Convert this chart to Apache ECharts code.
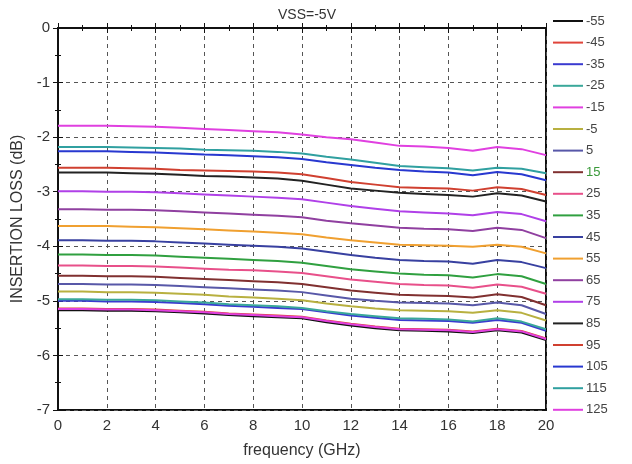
<!DOCTYPE html>
<html>
<head>
<meta charset="utf-8">
<script src="https://cdn.jsdelivr.net/npm/echarts@6/dist/echarts.min.js"></script>
<style>
  html, body { margin: 0; padding: 0; background: #fff; }
  #chart { width: 632px; height: 464px; }
</style>
</head>
<body>
<div id="chart"></div>
<script>
// frequency points (GHz)
const freq = [0, 1, 2, 3, 4, 5, 6, 7, 8, 9, 10, 11, 12, 13, 14, 15, 16, 17, 18, 19, 20]

// temperature labels, legend order
const temps = ['-55', '-45', '-35', '-25', '-15', '-5', '5', '15', '25', '35', '45', '55', '65', '75', '85', '95', '105', '115', '125']
const colors = ['#111111', '#e0443a', '#3a3ad0', '#3aa89a', '#e040e0', '#b8b040', '#5858a8', '#803030', '#e8508a', '#30a040', '#3840a0', '#f0a030', '#9040a0', '#b040e8', '#222222', '#d04030', '#2838d0', '#30a0a0', '#e040e0']

// insertion loss (dB) per temperature
const loss_m55 = [-5.17, -5.17, -5.18, -5.18, -5.19, -5.21, -5.23, -5.26, -5.28, -5.30, -5.32, -5.39, -5.45, -5.50, -5.54, -5.55, -5.56, -5.59, -5.54, -5.58, -5.72]
const loss_m45 = [-5.14, -5.14, -5.15, -5.15, -5.16, -5.18, -5.20, -5.23, -5.25, -5.27, -5.29, -5.36, -5.42, -5.47, -5.51, -5.52, -5.53, -5.56, -5.51, -5.55, -5.69]
const loss_m35 = [-5.00, -5.00, -5.01, -5.01, -5.02, -5.04, -5.06, -5.09, -5.11, -5.13, -5.15, -5.21, -5.27, -5.31, -5.35, -5.36, -5.37, -5.40, -5.35, -5.40, -5.55]
const loss_m25 = [-4.97, -4.97, -4.98, -4.98, -4.99, -5.01, -5.03, -5.06, -5.08, -5.10, -5.13, -5.19, -5.24, -5.28, -5.32, -5.33, -5.34, -5.38, -5.32, -5.38, -5.52]
const loss_m15 = [-5.15, -5.15, -5.16, -5.16, -5.17, -5.19, -5.21, -5.24, -5.26, -5.28, -5.30, -5.37, -5.43, -5.48, -5.52, -5.53, -5.54, -5.57, -5.52, -5.56, -5.70]
const loss_m5 = [-4.83, -4.83, -4.84, -4.84, -4.85, -4.87, -4.89, -4.92, -4.94, -4.96, -4.99, -5.05, -5.10, -5.14, -5.17, -5.18, -5.19, -5.22, -5.17, -5.22, -5.36]
const loss_5 = [-4.69, -4.69, -4.70, -4.70, -4.71, -4.73, -4.75, -4.77, -4.79, -4.81, -4.84, -4.90, -4.96, -5.00, -5.03, -5.04, -5.05, -5.08, -5.03, -5.08, -5.24]
const loss_15 = [-4.54, -4.54, -4.55, -4.55, -4.56, -4.58, -4.60, -4.62, -4.64, -4.66, -4.69, -4.75, -4.81, -4.85, -4.89, -4.90, -4.91, -4.94, -4.88, -4.93, -5.08]
const loss_25 = [-4.35, -4.35, -4.36, -4.36, -4.37, -4.39, -4.41, -4.43, -4.44, -4.46, -4.49, -4.55, -4.61, -4.65, -4.69, -4.71, -4.72, -4.76, -4.70, -4.74, -4.87]
const loss_35 = [-4.15, -4.15, -4.16, -4.16, -4.17, -4.19, -4.21, -4.23, -4.25, -4.27, -4.30, -4.36, -4.42, -4.46, -4.50, -4.52, -4.53, -4.57, -4.51, -4.55, -4.69]
const loss_45 = [-3.89, -3.89, -3.90, -3.90, -3.91, -3.93, -3.95, -3.97, -3.99, -4.01, -4.04, -4.10, -4.16, -4.21, -4.25, -4.27, -4.28, -4.32, -4.25, -4.29, -4.40]
const loss_55 = [-3.63, -3.63, -3.63, -3.64, -3.65, -3.67, -3.69, -3.71, -3.73, -3.75, -3.78, -3.84, -3.89, -3.93, -3.97, -3.98, -3.99, -4.01, -3.97, -4.01, -4.13]
const loss_65 = [-3.32, -3.32, -3.33, -3.33, -3.34, -3.36, -3.38, -3.40, -3.42, -3.44, -3.47, -3.53, -3.58, -3.62, -3.66, -3.68, -3.69, -3.72, -3.66, -3.70, -3.85]
const loss_75 = [-2.99, -2.99, -3.00, -3.00, -3.01, -3.03, -3.05, -3.07, -3.09, -3.11, -3.14, -3.20, -3.26, -3.31, -3.36, -3.38, -3.40, -3.43, -3.37, -3.41, -3.54]
const loss_85 = [-2.65, -2.65, -2.65, -2.66, -2.67, -2.69, -2.71, -2.72, -2.74, -2.76, -2.80, -2.87, -2.94, -2.98, -3.02, -3.04, -3.06, -3.09, -3.03, -3.07, -3.18]
const loss_95 = [-2.56, -2.56, -2.56, -2.57, -2.58, -2.60, -2.61, -2.62, -2.63, -2.65, -2.68, -2.75, -2.82, -2.87, -2.92, -2.93, -2.94, -2.98, -2.92, -2.95, -3.06]
const loss_105 = [-2.26, -2.26, -2.26, -2.27, -2.28, -2.30, -2.32, -2.33, -2.35, -2.37, -2.40, -2.46, -2.51, -2.56, -2.60, -2.63, -2.65, -2.70, -2.64, -2.68, -2.79]
const loss_115 = [-2.18, -2.18, -2.18, -2.19, -2.20, -2.21, -2.23, -2.24, -2.25, -2.27, -2.30, -2.36, -2.41, -2.47, -2.53, -2.55, -2.57, -2.61, -2.56, -2.58, -2.66]
const loss_125 = [-1.79, -1.79, -1.79, -1.80, -1.81, -1.83, -1.85, -1.87, -1.89, -1.91, -1.95, -2.00, -2.04, -2.10, -2.16, -2.17, -2.20, -2.25, -2.18, -2.22, -2.33]

const allLoss = [loss_m55, loss_m45, loss_m35, loss_m25, loss_m15, loss_m5, loss_5, loss_15, loss_25, loss_35, loss_45, loss_55, loss_65, loss_75, loss_85, loss_95, loss_105, loss_115, loss_125]

const chart = echarts.init(document.getElementById('chart'))
const font = 'Liberation Sans, Arial, sans-serif'

const series = temps.map((t, i) => ({
  name: t,
  type: 'line',
  symbol: 'none',
  smooth: false,
  color: colors[i],
  lineStyle: { width: 2, color: colors[i] },
  data: freq.map((f, j) => [f, allLoss[i][j]])
}))

// the "15" label is green in the original
const legendData = temps.map(t => {
  if (t === '15') return { name: t, textStyle: { color: '#3a9a3a' } }
  return { name: t }
})

const option = {
  animation: false,
  title: {
    text: 'VSS=-5V',
    left: 302,
    textAlign: 'center',
    top: 3,
    textStyle: { fontSize: 14, fontWeight: 'normal', color: '#333', fontFamily: font }
  },
  legend: {
    orient: 'vertical',
    left: 548,
    top: 9,
    icon: 'rect',
    itemWidth: 30,
    itemHeight: 2,
    itemGap: 7.6,
    data: legendData,
    textStyle: { fontSize: 13, lineHeight: 14, color: '#444', fontFamily: font, padding: [0, 0, 0, -2] }
  },
  grid: {
    left: 58,
    right: 86,
    top: 28,
    bottom: 54,
    show: true,
    borderColor: '#111',
    borderWidth: 2
  },
  xAxis: [
    {
      type: 'value',
      min: 0,
      max: 20,
      interval: 2,
      name: 'frequency (GHz)',
      nameLocation: 'middle',
      nameGap: 33,
      nameTextStyle: { fontSize: 16, color: '#333', fontFamily: font },
      axisLine: { show: true, lineStyle: { color: '#111', width: 2 } },
      axisTick: { inside: true, length: 5, lineStyle: { color: '#111' } },
      minorTick: { show: true, splitNumber: 2, length: 3, lineStyle: { color: '#111' } },
      axisLabel: { fontSize: 15, color: '#333', margin: 8, fontFamily: font },
      splitLine: { show: true, lineStyle: { color: '#555', type: [4, 4], width: 1 } }
    },
    {
      type: 'value',
      position: 'top',
      min: 0,
      max: 20,
      interval: 2,
      axisLine: { show: true, lineStyle: { color: '#111', width: 2 } },
      axisTick: { inside: true, length: 5, lineStyle: { color: '#111' } },
      minorTick: { show: true, splitNumber: 2, length: 3, lineStyle: { color: '#111' } },
      axisLabel: { show: false },
      splitLine: { show: false }
    }
  ],
  yAxis: [
    {
      type: 'value',
      min: -7,
      max: 0,
      interval: 1,
      name: 'INSERTION LOSS (dB)',
      nameLocation: 'middle',
      nameGap: 31,
      nameTextStyle: { fontSize: 16, color: '#333', fontFamily: font },
      axisLine: { show: true, lineStyle: { color: '#111', width: 2 } },
      axisTick: { inside: true, length: 5, lineStyle: { color: '#111' } },
      minorTick: { show: true, splitNumber: 2, length: 3, lineStyle: { color: '#111' } },
      axisLabel: { fontSize: 15, color: '#333', margin: 8, fontFamily: font },
      splitLine: { show: true, lineStyle: { color: '#555', type: [4, 4], width: 1 } }
    },
    {
      type: 'value',
      position: 'right',
      min: -7,
      max: 0,
      interval: 1,
      axisLine: { show: true, lineStyle: { color: '#111', width: 2 } },
      axisTick: { inside: true, length: 5, lineStyle: { color: '#111' } },
      minorTick: { show: true, splitNumber: 2, length: 3, lineStyle: { color: '#111' } },
      axisLabel: { show: false },
      splitLine: { show: false }
    }
  ],
  series
}

chart.setOption(option)
</script>
</body>
</html>
